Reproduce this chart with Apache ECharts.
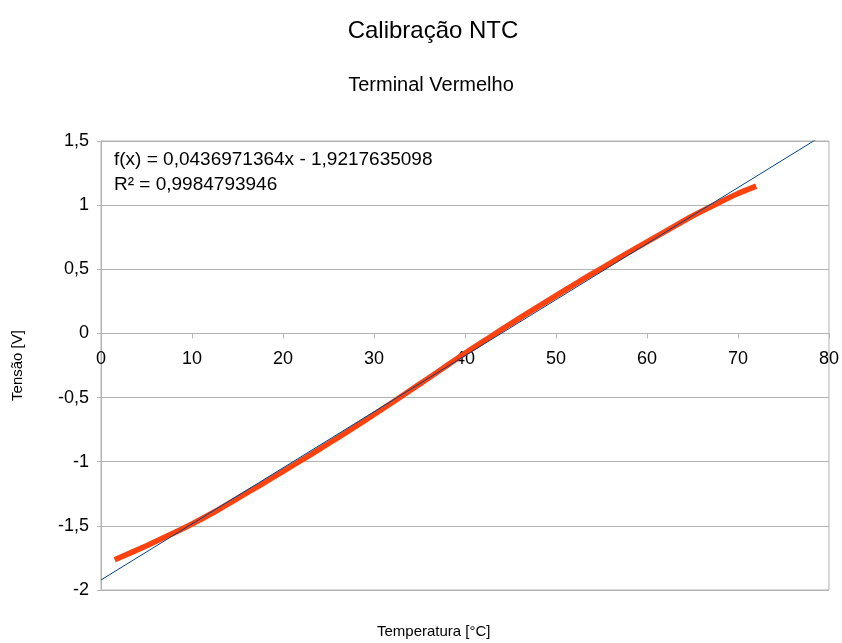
<!DOCTYPE html>
<html>
<head>
<meta charset="utf-8">
<script src="https://cdn.jsdelivr.net/npm/echarts@6/dist/echarts.min.js"></script>
<style>
  html, body { margin: 0; padding: 0; background: #fff; }
  #chart { width: 842px; height: 643px; }
</style>
</head>
<body>
<div id="chart"></div>
<script>
// Measured calibration points: temperature [°C] and voltage [V]
var temperatures = [1.5, 5, 7.5, 10, 12.5, 15, 17.5, 20, 22.5, 25, 27.5, 30, 32.5, 35, 37.5, 40, 42.5, 45, 47.5, 50, 52.5, 55, 57.5, 60, 62.5, 65, 67.5, 70, 72];
var voltages = [-1.765, -1.655, -1.572, -1.485, -1.39, -1.285, -1.182, -1.075, -0.968, -0.858, -0.746, -0.632, -0.515, -0.395, -0.275, -0.155, -0.04, 0.075, 0.186, 0.295, 0.403, 0.508, 0.612, 0.714, 0.815, 0.915, 1.005, 1.09, 1.148];

// Linear regression reported for the data
var slope = 0.0436971364;
var intercept = -1.9217635098;
var rSquared = 0.9984793946;
var trendX = [0, 80];

var xTicks = { min: 0, max: 80, interval: 10 };
var yTicks = { min: -2, max: 1.5, interval: 0.5 };

var measured = temperatures.map(function (t, i) { return [t, voltages[i]]; });
var trend = trendX.map(function (t) { return [t, slope * t + intercept]; });

function comma(v) {
  return String(v).replace('.', ',');
}

var font = '"Liberation Sans", Arial, sans-serif';
var gridTop = 141, gridBottom = 53, chartHeight = 643;
var plotHeight = chartHeight - gridTop - gridBottom;
// the horizontal axis sits on the zero line
var zeroOffset = -plotHeight * (0 - yTicks.min) / (yTicks.max - yTicks.min);

var chart = echarts.init(document.getElementById('chart'), null, { renderer: 'canvas' });

chart.setOption({
  animation: false,
  backgroundColor: '#ffffff',
  title: [
    { text: 'Calibração NTC', left: 428, top: 14, textAlign: 'center',
      textStyle: { fontFamily: font, fontSize: 24, fontWeight: 'normal', color: '#000' } },
    { text: 'Terminal Vermelho', left: 426, top: 70, textAlign: 'center',
      textStyle: { fontFamily: font, fontSize: 20, fontWeight: 'normal', color: '#000' } }
  ],
  grid: {
    left: 101, right: 13, top: gridTop, bottom: gridBottom,
    show: true, borderColor: '#b3b3b3', borderWidth: 1
  },
  xAxis: {
    type: 'value',
    position: 'bottom',
    offset: zeroOffset,
    min: xTicks.min, max: xTicks.max, interval: xTicks.interval,
    axisLine: { onZero: false, lineStyle: { color: '#b3b3b3', width: 1 } },
    axisTick: { show: true, length: 5, inside: false, lineStyle: { color: '#b3b3b3' } },
    axisLabel: { color: '#000', fontFamily: font, fontSize: 18, margin: 17,
      formatter: function (v) { return comma(v); } },
    splitLine: { show: false }
  },
  yAxis: {
    type: 'value',
    min: yTicks.min, max: yTicks.max, interval: yTicks.interval,
    name: 'Tensão [V]', nameLocation: 'middle', nameGap: 76, nameRotate: 90,
    nameTextStyle: { color: '#000', fontFamily: font, fontSize: 15 },
    axisLine: { show: true, lineStyle: { color: '#b3b3b3', width: 1 } },
    axisTick: { show: true, length: 4, lineStyle: { color: '#b3b3b3' } },
    axisLabel: { color: '#000', fontFamily: font, fontSize: 18, margin: 12,
      formatter: function (v) { return comma(v); } },
    splitLine: { show: true, lineStyle: { color: '#b3b3b3', width: 1 } }
  },
  graphic: [
    { type: 'text', left: 114, top: 150,
      style: { text: 'f(x) = ' + comma(slope) + 'x - ' + comma(-intercept),
        font: '19px ' + font, fill: '#000' } },
    { type: 'text', left: 114, top: 175,
      style: { text: 'R² = ' + comma(rSquared), font: '19px ' + font, fill: '#000' } },
    { type: 'text', left: 377, top: 624,
      style: { text: 'Temperatura [°C]', font: '15px ' + font, fill: '#000' } }
  ],
  series: [
    {
      name: 'Tensão',
      type: 'line',
      data: measured,
      smooth: 0.3,
      showSymbol: false,
      lineStyle: { color: '#ff420e', width: 5.5, cap: 'butt' },
      z: 2
    },
    {
      name: 'Tendência',
      type: 'line',
      data: trend,
      showSymbol: false,
      clip: true,
      lineStyle: { color: '#004586', width: 1 },
      z: 3
    }
  ]
});
</script>
</body>
</html>
